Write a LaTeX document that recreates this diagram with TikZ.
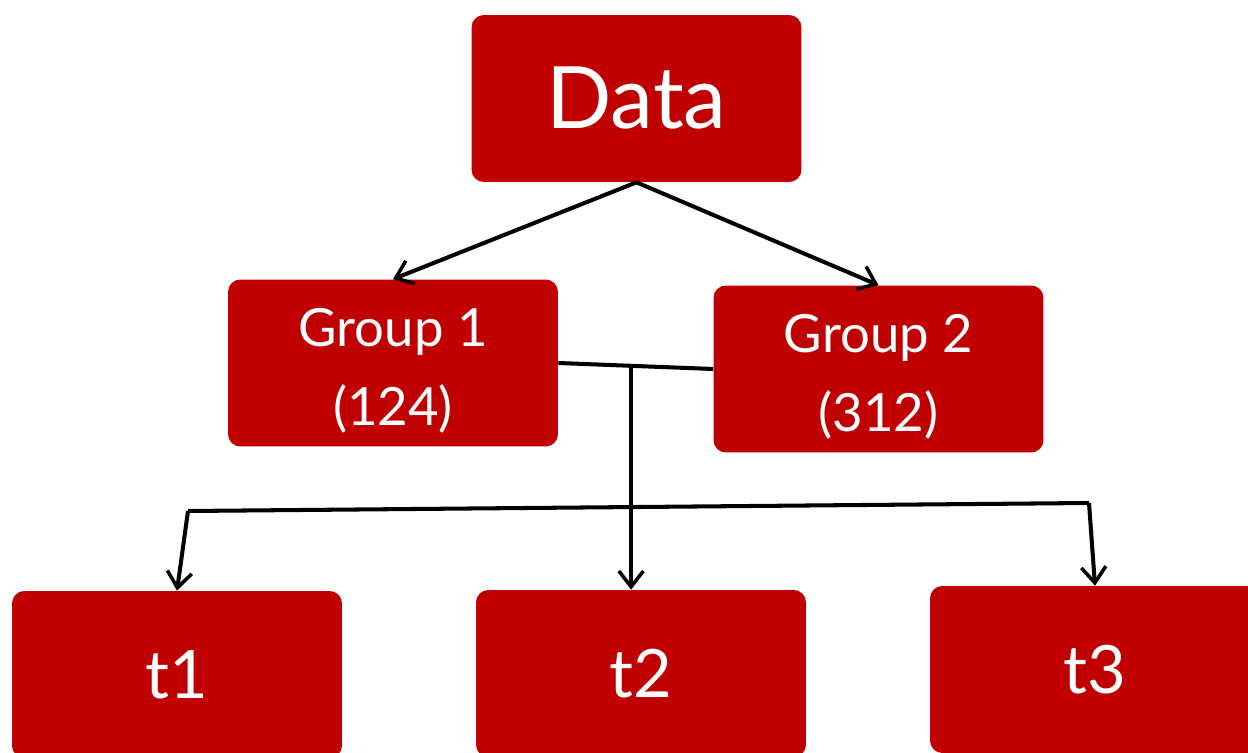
\documentclass[tikz,border=0pt]{standalone}
\usepackage{fontspec}
\setmainfont{Lato}
\usepackage{xcolor}
\usepackage{tikz}
\usetikzlibrary{arrows.meta,calc}
\definecolor{boxred}{HTML}{C00000}
\newcommand{\gstrut}{\rule{0pt}{31pt}}

\begin{document}
\begin{tikzpicture}[x=0.02cm,y=-0.02cm,
box/.style={fill=boxred,rounded corners=7pt,minimum width=6.6cm,minimum height=3.34cm,align=center,text=white,inner sep=0pt},
conn/.style={line width=2.3pt,color=black},
arr/.style={conn,-{Straight Barb[length=9pt,width=14pt,line width=2pt]}}
]
\useasboundingbox (0,0) rectangle (1248,753);
\clip (0,0) rectangle (1248,753);
\node[box,font=\fontsize{49}{52}\selectfont] (data) at (636.5,98.5) {Data};
\node[box,font=\fontsize{30}{45}\selectfont] (g1) at (393,363) {\gstrut Group 1\\(124)};
\node[box,font=\fontsize{30}{45}\selectfont] (g2) at (878.5,369) {\gstrut Group 2\\(312)};
\node[box,font=\fontsize{38}{44}\selectfont] (t1) at (177,674.5) {t1};
\node[box,font=\fontsize{38}{44}\selectfont] (t2) at (641,673.5) {t2};
\node[box,font=\fontsize{38}{44}\selectfont] (t3) at (1095,669.5) {t3};
\coordinate (jn) at ($(g1.east)!0.47!(g2.west)$);
\coordinate (bl) at (188,511);
\coordinate (br) at (1089,503);
\draw[arr] (data.south)--(g1.north);
\draw[arr] (data.south)--(g2.north);
\draw[conn] (g1.east)--(g2.west);
\draw[arr] (jn)--(jn |- t2.north);
\draw[conn] (bl)--(br);
\draw[arr] (bl)--(t1.north);
\draw[arr] (br)--(t3.north);
\end{tikzpicture}
\end{document}
